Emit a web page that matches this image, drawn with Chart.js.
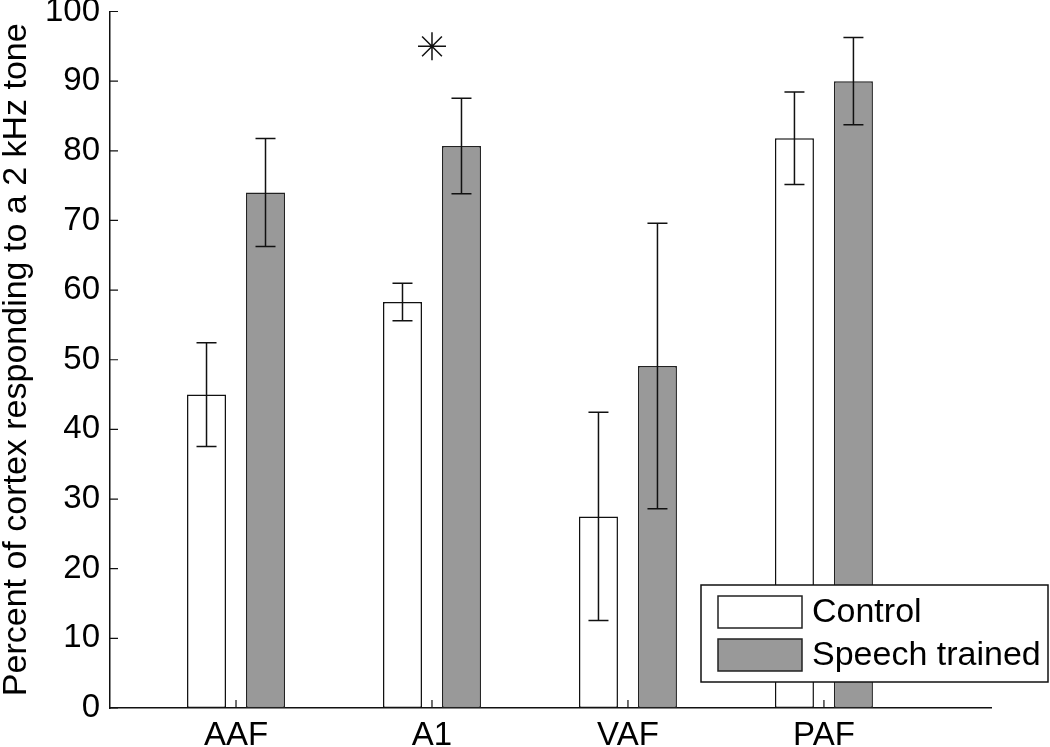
<!DOCTYPE html>
<html>
<head>
<meta charset="utf-8">
<script src="https://cdn.jsdelivr.net/npm/chart.js@4/dist/chart.umd.min.js"></script>
<style>
  html, body { margin: 0; padding: 0; background: #fff; }
  #wrap { width: 1050px; height: 747px; position: relative; }
</style>
</head>
<body>
<div id="wrap"><canvas id="c" width="1050" height="747"></canvas></div>
<script>
// ---- data ----
const categories = ['AAF', 'A1', 'VAF', 'PAF'];
const seriesNames = ['Control', 'Speech trained'];
const controlMeans = [45.0, 58.3, 27.5, 81.8];
const controlSem = [7.45, 2.7, 14.95, 6.65];
const speechMeans = [74.0, 80.7, 49.1, 90.0];
const speechSem = [7.75, 6.85, 20.5, 6.25];
const sigCategories = ['A1'];
const sigLevels = [95];
const yTicks = [0, 10, 20, 30, 40, 50, 60, 70, 80, 90, 100];

const FONT = '"Liberation Sans", Arial, sans-serif';
const pos = c => categories.indexOf(c) + 1;

const errorBars = {
  id: 'errorBars',
  afterDatasetsDraw(chart) {
    const ctx = chart.ctx;
    const y = chart.scales.y;
    ctx.save();
    ctx.strokeStyle = '#111';
    ctx.lineWidth = 1.5;
    chart.data.datasets.forEach((ds, di) => {
      if (!ds.sem) return;
      const meta = chart.getDatasetMeta(di);
      meta.data.forEach((el, i) => {
        const m = ds.data[i].y, s = ds.sem[i];
        const yt = y.getPixelForValue(m + s), yb = y.getPixelForValue(m - s);
        const x = el.x, cw = 10;
        ctx.beginPath();
        ctx.moveTo(x, yt); ctx.lineTo(x, yb);
        ctx.moveTo(x - cw, yt); ctx.lineTo(x + cw, yt);
        ctx.moveTo(x - cw, yb); ctx.lineTo(x + cw, yb);
        ctx.stroke();
      });
    });
    ctx.restore();
  }
};

const inwardTicks = {
  id: 'inwardTicks',
  afterDraw(chart) {
    const ctx = chart.ctx, a = chart.chartArea;
    const xs = chart.scales.x, ys = chart.scales.y;
    ctx.save();
    ctx.strokeStyle = '#111';
    ctx.lineWidth = 1.2;
    ctx.beginPath();
    yTicks.forEach(v => {
      const p = ys.getPixelForValue(v);
      ctx.moveTo(a.left, p); ctx.lineTo(a.left + 8, p);
    });
    categories.forEach((c, i) => {
      const p = xs.getPixelForValue(i + 1);
      ctx.moveTo(p, a.bottom); ctx.lineTo(p, a.bottom - 8);
    });
    ctx.stroke();
    ctx.restore();
  }
};

const boxLegend = {
  id: 'boxLegend',
  afterDraw(chart) {
    const ctx = chart.ctx;
    const L = 701, T = 585, R = 1048, B = 682;
    ctx.save();
    ctx.fillStyle = '#fff';
    ctx.fillRect(L, T, R - L, B - T);
    ctx.strokeStyle = '#111';
    ctx.lineWidth = 1.5;
    ctx.strokeRect(L, T, R - L, B - T);
    const rows = [596, 639];
    chart.data.datasets.filter(d => d.sem).forEach((ds, i) => {
      const top = rows[i];
      ctx.fillStyle = ds.backgroundColor;
      ctx.fillRect(718, top, 84, 32);
      ctx.strokeStyle = '#222';
      ctx.lineWidth = 1.5;
      ctx.strokeRect(718, top, 84, 32);
      ctx.fillStyle = '#000';
      ctx.font = '34px ' + FONT;
      ctx.textBaseline = 'middle';
      ctx.textAlign = 'left';
      ctx.fillText(ds.label, 812, top + 17);
    });
    ctx.restore();
  }
};

new Chart(document.getElementById('c'), {
  type: 'bar',
  data: {
    datasets: [
      {
        label: seriesNames[0],
        data: categories.map((c, i) => ({ x: i + 1, y: controlMeans[i] })),
        sem: controlSem,
        backgroundColor: '#ffffff',
        borderColor: '#111',
        borderWidth: 1.5,
        borderSkipped: false,
        categoryPercentage: 0.602,
        barPercentage: 0.661,
        order: 2
      },
      {
        label: seriesNames[1],
        data: categories.map((c, i) => ({ x: i + 1, y: speechMeans[i] })),
        sem: speechSem,
        backgroundColor: '#999999',
        borderColor: '#222',
        borderWidth: 1.5,
        borderSkipped: false,
        categoryPercentage: 0.602,
        barPercentage: 0.661,
        order: 2
      },
      {
        type: 'line',
        label: 'significance',
        data: sigCategories.map((c, i) => ({ x: pos(c), y: sigLevels[i] })),
        showLine: false,
        pointStyle: 'star',
        pointRadius: 14,
        borderColor: '#111',
        backgroundColor: '#111',
        pointBorderWidth: 1.5,
        order: 0
      }
    ]
  },
  options: {
    responsive: false,
    animation: false,
    layout: { autoPadding: false, padding: { top: 11.5, right: 58.5, left: 0, bottom: 0 } },
    plugins: { legend: { display: false }, tooltip: { enabled: false } },
    scales: {
      x: {
        type: 'linear',
        min: 0.357,
        max: 4.855,
        offset: false,
        grid: { display: false, drawTicks: false },
        border: { display: true, color: '#111', width: 1.5 },
        afterBuildTicks: s => { s.ticks = categories.map((c, i) => ({ value: i + 1 })); },
        afterFit: s => { s.height = 39; s.paddingLeft = 0; s.paddingRight = 0; },
        ticks: {
          autoSkip: false,
          maxRotation: 0,
          padding: 8,
          color: '#000',
          font: { family: FONT, size: 33 },
          callback: v => categories[v - 1]
        }
      },
      y: {
        min: 0,
        max: 100,
        grid: { display: false, drawTicks: false },
        border: { display: true, color: '#111', width: 1.5 },
        afterBuildTicks: s => { s.ticks = yTicks.map(v => ({ value: v })); },
        afterFit: s => { s.width = 110; s.paddingTop = 0; s.paddingBottom = 0; },
        ticks: {
          padding: 10,
          color: '#000',
          font: { family: FONT, size: 33 }
        },
        title: {
          display: true,
          text: 'Percent of cortex responding to a 2 kHz tone',
          color: '#000',
          font: { family: FONT, size: 34, lineHeight: 1.0 },
          padding: { top: 0, bottom: 0 }
        }
      }
    }
  },
  plugins: [errorBars, inwardTicks, boxLegend]
});
</script>
</body>
</html>
